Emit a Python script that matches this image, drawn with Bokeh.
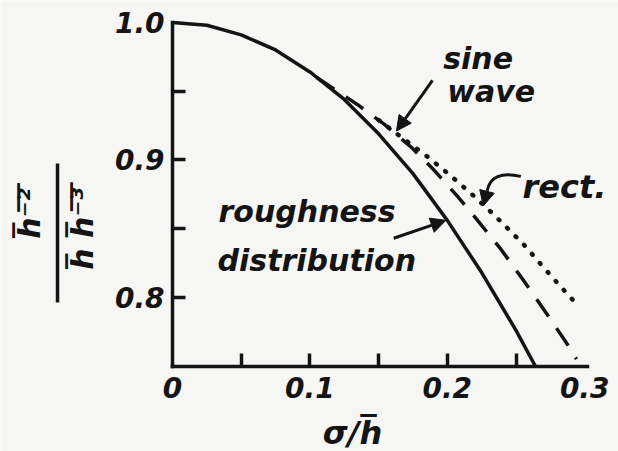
from math import pi

from bokeh.embed import file_html
from bokeh.models import Arrow, FixedTicker, Label, LinearAxis, NormalHead
from bokeh.plotting import figure
from bokeh.resources import INLINE

# sigma / h-bar against the ratio  mean(h^-2) / (mean(h) * mean(h^-3))
sigma_rough = [0.0, 0.025, 0.05, 0.075, 0.1, 0.125, 0.15, 0.175, 0.2, 0.225, 0.25, 0.264]
ratio_rough = [1.0, 0.998, 0.991, 0.980, 0.964, 0.944, 0.919, 0.890, 0.856, 0.818, 0.776, 0.750]

sigma_sine = [0.105, 0.12, 0.135, 0.154, 0.174, 0.189, 0.207, 0.222, 0.239, 0.255, 0.271, 0.288, 0.294]
ratio_sine = [0.960, 0.950, 0.940, 0.926, 0.909, 0.894, 0.874, 0.856, 0.835, 0.813, 0.790, 0.765, 0.755]

sigma_rect = [0.15, 0.17, 0.186, 0.203, 0.219, 0.233, 0.256, 0.276, 0.296]
ratio_rect = [0.929, 0.914, 0.902, 0.888, 0.874, 0.861, 0.838, 0.815, 0.793]

x_ticks = [0.0, 0.1, 0.2, 0.3]
x_tick_labels = ["0", "0.1", "0.2", "0.3"]
x_tick_marks = [0.05, 0.1, 0.15, 0.2, 0.25]
y_ticks = [0.8, 0.9, 1.0]
y_tick_labels = ["0.8", "0.9", "1.0"]
y_tick_marks = [0.8, 0.85, 0.9, 0.95]

INK = "#141414"
PAPER = "#f6f6f4"
FONT = "DejaVu Sans"
STYLE = "bold italic"

# the frame fills the whole page so the titles and notes have room around the axes
p = figure(
    width=618, height=451,
    x_range=(-0.1252, 0.3246), y_range=(0.6878, 1.0160),
    x_axis_location=None, y_axis_location=None,
    output_backend="svg", toolbar_location=None,
    min_border=0,
)
p.grid.visible = False
p.outline_line_color = None
p.background_fill_color = PAPER
p.border_fill_color = PAPER

xaxis = LinearAxis(fixed_location=0.75, bounds=(0, 0.302),
                   ticker=FixedTicker(ticks=x_ticks, minor_ticks=x_tick_marks),
                   major_label_overrides=dict(zip(x_ticks, x_tick_labels)),
                   major_label_standoff=11)
yaxis = LinearAxis(fixed_location=0, bounds=(0.75, 1.0),
                   ticker=FixedTicker(ticks=y_ticks, minor_ticks=y_tick_marks),
                   major_label_overrides=dict(zip(y_ticks, y_tick_labels)),
                   major_label_standoff=8)
for ax in (xaxis, yaxis):
    ax.axis_line_width = 3.5
    ax.axis_line_color = INK
    ax.axis_line_cap = "square"
    ax.major_tick_in = 0
    ax.major_tick_out = 0
    ax.minor_tick_in = 13
    ax.minor_tick_out = 0
    ax.minor_tick_line_width = 3.5
    ax.minor_tick_line_color = INK
    ax.major_label_text_font = FONT
    ax.major_label_text_font_style = STYLE
    ax.major_label_text_font_size = "28px"
    ax.major_label_text_color = INK
p.add_layout(xaxis, "below")
p.add_layout(yaxis, "left")

# curves
p.line(sigma_rough, ratio_rough, line_width=3.5, line_color=INK)
p.line(sigma_sine, ratio_sine, line_width=3.5, line_color=INK, line_dash="21 14")
p.line(sigma_rect, ratio_rect, line_width=4.5, line_color=INK,
       line_dash="1 11", line_cap="round")


def note(x, y, text, size="30px", **kw):
    p.add_layout(Label(x=x, y=y, text=text, text_font=FONT, text_font_style=STYLE,
                       text_font_size=size, text_color=INK, **kw))


def head():
    return NormalHead(size=15, fill_color=INK, line_color=INK, line_width=1)


# curve annotations
note(0.197, 0.9614, "sine")
note(0.200, 0.9374, "wave")
p.add_layout(Arrow(x_start=0.1892, y_start=0.9578, x_end=0.163, y_end=0.921,
                   end=head(), line_width=3, line_color=INK))

note(0.2547, 0.8668, "rect.", size="32px")
p.quadratic(x0=[0.2535], y0=[0.888], x1=[0.229], y1=[0.8775],
            cx=[0.232], cy=[0.893], line_width=3, line_color=INK)
p.add_layout(Arrow(x_start=0.229, y_start=0.8775, x_end=0.2262, y_end=0.8665,
                   end=head(), line_width=3, line_color=INK))

note(0.0335, 0.850, "roughness")
note(0.0328, 0.8137, "distribution")
p.add_layout(Arrow(x_start=0.161, y_start=0.843, x_end=0.199, y_end=0.856,
                   end=head(), line_width=3, line_color=INK))

# axis titles
note(0.131, 0.7016, "\u03c3/h\u0305", size="32px", text_align="center",
     text_baseline="middle")
note(-0.1040, 0.861, "h\u0305\u207b\u0305\u00b2\u0305", angle=pi / 2,
     text_align="center", text_baseline="middle")
note(-0.0655, 0.850, "h\u0305 h\u0305\u207b\u0305\u00b3\u0305", angle=pi / 2,
     text_align="center", text_baseline="middle")
p.add_layout(Arrow(x_start=-0.0837, y_start=0.7962, x_end=-0.0837, y_end=0.8974,
                   end=None, line_width=3.5, line_color=INK))

open("out.html", "w").write(file_html(p, INLINE))
